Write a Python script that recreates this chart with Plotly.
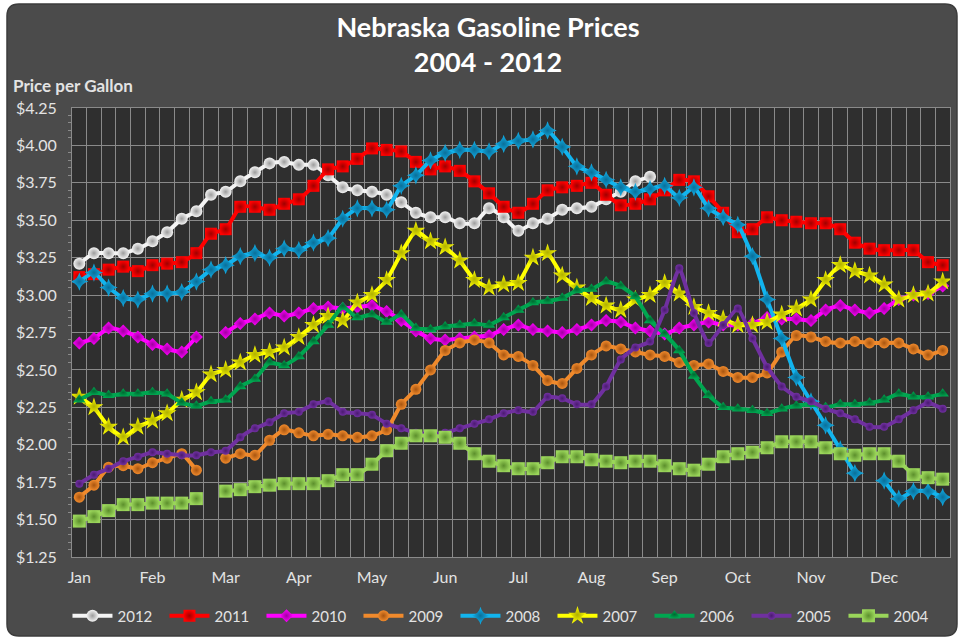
import plotly.graph_objects as go

# ---------------- data ----------------
months = ["Jan", "Feb", "Mar", "Apr", "May", "Jun", "Jul", "Aug", "Sep", "Oct", "Nov", "Dec"]
weeks_per_month = 5
years = ["2012", "2011", "2010", "2009", "2008", "2007", "2006", "2005", "2004"]

p2012 = [3.21, 3.28, 3.28, 3.28, 3.31, 3.36, 3.42, 3.51, 3.56, 3.67, 3.69, 3.76, 3.82, 3.88, 3.89,
         3.87, 3.87, 3.80, 3.72, 3.70, 3.69, 3.67, 3.62, 3.55, 3.52, 3.52, 3.48, 3.48, 3.58, 3.52,
         3.43, 3.48, 3.51, 3.57, 3.58, 3.59, 3.64, 3.69, 3.76, 3.79]
p2011 = [3.12, 3.14, 3.17, 3.19, 3.16, 3.20, 3.21, 3.22, 3.28, 3.41, 3.44, 3.59, 3.59, 3.57, 3.61,
         3.64, 3.73, 3.84, 3.86, 3.91, 3.98, 3.97, 3.96, 3.89, 3.84, 3.86, 3.83, 3.76, 3.68, 3.59,
         3.55, 3.61, 3.70, 3.72, 3.73, 3.75, 3.67, 3.60, 3.61, 3.64, 3.70, 3.77, 3.76, 3.66, 3.55,
         3.42, 3.44, 3.52, 3.50, 3.49, 3.48, 3.48, 3.44, 3.35, 3.31, 3.30, 3.30, 3.30, 3.22, 3.20]
p2010 = [2.68, 2.71, 2.78, 2.76, 2.72, 2.67, 2.64, 2.62, 2.72, None, 2.75, 2.81, 2.84, 2.88, 2.86,
         2.88, 2.91, 2.92, 2.91, 2.92, 2.93, 2.89, 2.83, 2.76, 2.71, 2.70, 2.71, 2.72, 2.73, 2.77,
         2.80, 2.77, 2.76, 2.75, 2.77, 2.80, 2.83, 2.82, 2.78, 2.76, 2.74, 2.78, 2.80, 2.82, 2.80,
         2.80, 2.81, 2.85, 2.84, 2.84, 2.83, 2.90, 2.93, 2.90, 2.88, 2.91, 2.97, 3.00, 3.01, 3.06]
p2009 = [1.65, 1.73, 1.85, 1.86, 1.84, 1.88, 1.91, 1.94, 1.83, None, 1.91, 1.94, 1.93, 2.03, 2.10,
         2.08, 2.06, 2.07, 2.06, 2.05, 2.06, 2.10, 2.27, 2.37, 2.50, 2.63, 2.68, 2.70, 2.68, 2.60,
         2.59, 2.53, 2.43, 2.41, 2.51, 2.60, 2.66, 2.64, 2.62, 2.60, 2.59, 2.55, 2.53, 2.54, 2.49,
         2.45, 2.45, 2.48, 2.62, 2.73, 2.72, 2.69, 2.68, 2.69, 2.68, 2.68, 2.68, 2.64, 2.60, 2.63]
p2008 = [3.09, 3.15, 3.05, 2.98, 2.97, 3.01, 3.01, 3.02, 3.09, 3.17, 3.20, 3.26, 3.28, 3.25, 3.31,
         3.30, 3.35, 3.38, 3.51, 3.58, 3.58, 3.57, 3.73, 3.80, 3.90, 3.95, 3.97, 3.97, 3.96, 4.01,
         4.03, 4.04, 4.10, 3.99, 3.86, 3.82, 3.77, 3.72, 3.69, 3.71, 3.73, 3.65, 3.72, 3.58, 3.52,
         3.47, 3.26, 2.97, 2.71, 2.45, 2.29, 2.13, 1.97, 1.81, None, 1.76, 1.64, 1.69, 1.69, 1.65]
p2007 = [2.32, 2.25, 2.12, 2.05, 2.12, 2.16, 2.21, 2.30, 2.35, 2.47, 2.50, 2.55, 2.60, 2.62, 2.65,
         2.72, 2.80, 2.86, 2.83, 2.95, 3.00, 3.10, 3.28, 3.43, 3.36, 3.32, 3.23, 3.10, 3.05, 3.07,
         3.08, 3.25, 3.28, 3.13, 3.05, 2.98, 2.93, 2.90, 2.97, 3.00, 3.08, 3.01, 2.92, 2.88, 2.84,
         2.80, 2.80, 2.82, 2.87, 2.91, 2.97, 3.10, 3.20, 3.16, 3.13, 3.07, 2.97, 3.00, 3.01, 3.09]
p2006 = [2.30, 2.35, 2.33, 2.34, 2.34, 2.35, 2.34, 2.28, 2.26, 2.29, 2.30, 2.39, 2.44, 2.55, 2.53,
         2.59, 2.69, 2.80, 2.92, 2.85, 2.87, 2.82, 2.87, 2.78, 2.77, 2.79, 2.80, 2.81, 2.80, 2.85,
         2.90, 2.95, 2.96, 2.98, 3.03, 3.04, 3.09, 3.06, 2.99, 2.83, 2.74, 2.63, 2.46, 2.33, 2.25,
         2.24, 2.23, 2.21, 2.24, 2.26, 2.27, 2.25, 2.27, 2.27, 2.28, 2.30, 2.34, 2.32, 2.32, 2.34]
p2005 = [1.74, 1.80, 1.84, 1.89, 1.92, 1.95, 1.94, 1.93, 1.93, 1.95, 1.96, 2.05, 2.11, 2.15, 2.21,
         2.22, 2.27, 2.29, 2.22, 2.21, 2.20, 2.14, 2.11, 2.08, 2.07, 2.08, 2.11, 2.14, 2.17, 2.21,
         2.23, 2.22, 2.32, 2.31, 2.27, 2.27, 2.39, 2.57, 2.65, 2.69, 2.90, 3.18, 2.88, 2.68, 2.80,
         2.91, 2.71, 2.52, 2.39, 2.32, 2.29, 2.24, 2.21, 2.17, 2.12, 2.12, 2.17, 2.23, 2.28, 2.24]
p2004 = [1.49, 1.52, 1.56, 1.60, 1.60, 1.61, 1.61, 1.61, 1.64, None, 1.69, 1.70, 1.72, 1.73, 1.74,
         1.74, 1.74, 1.76, 1.80, 1.80, 1.87, 1.96, 2.01, 2.06, 2.06, 2.05, 2.01, 1.94, 1.89, 1.86,
         1.84, 1.84, 1.88, 1.92, 1.92, 1.90, 1.89, 1.88, 1.89, 1.89, 1.86, 1.84, 1.83, 1.87, 1.92,
         1.94, 1.95, 1.98, 2.02, 2.02, 2.02, 1.98, 1.94, 1.93, 1.94, 1.94, 1.89, 1.80, 1.78, 1.77]

prices = [p2012, p2011, p2010, p2009, p2008, p2007, p2006, p2005, p2004]

# ---------------- styles ----------------
styles = {
    "2012": dict(color="#f4f4f4", edge="#9c9c9c", symbol="circle", size=12),
    "2011": dict(color="#ff0000", edge="#a00000", symbol="square", size=12),
    "2010": dict(color="#ff00ff", edge="#a000a0", symbol="diamond", size=10),
    "2009": dict(color="#f08a2c", edge="#a85510", symbol="circle", size=11),
    "2008": dict(color="#12b4ee", edge="#0a6f99", symbol="star-diamond", size=13),
    "2007": dict(color="#ffff00", edge="#b0b000", symbol="star", size=14),
    "2006": dict(color="#00a650", edge="#006a32", symbol="triangle-up", size=11),
    "2005": dict(color="#7030a0", edge="#4a1a70", symbol="circle", size=8),
    "2004": dict(color="#9ad55a", edge="#5c8f2c", symbol="square", size=13),
}

n_slots = len(months) * weeks_per_month
slots = list(range(n_slots))

fig = go.Figure()
for yr, vals in zip(years, prices):
    st = styles[yr]
    fig.add_trace(go.Scatter(
        x=slots[:len(vals)], y=vals, name=yr, mode="lines+markers",
        line=dict(color=st["color"], width=4, shape="spline", smoothing=0.4),
        marker=dict(symbol=st["symbol"], size=st["size"], color=st["color"],
                    line=dict(width=0),
                    gradient=dict(type="radial", color=st["edge"])),
        connectgaps=False,
    ))

# chart frame (rounded) and plot area background
L, R, T, B = 72, 10, 108, 86
W, H = 960, 643
pw, ph = W - L - R, H - T - B


def px2x(px):
    return (px - L) / pw


def px2y(py):
    return (H - B - py) / ph


x0, x1, y0, y1 = px2x(7), px2x(957), px2y(636), px2y(4)
rx, ry = 12 / pw, 12 / ph
path = (f"M {x0+rx},{y1} L {x1-rx},{y1} Q {x1},{y1} {x1},{y1-ry} "
        f"L {x1},{y0+ry} Q {x1},{y0} {x1-rx},{y0} L {x0+rx},{y0} "
        f"Q {x0},{y0} {x0},{y0+ry} L {x0},{y1-ry} Q {x0},{y1} {x0+rx},{y1} Z")

grid = "#8a8a8a"
txt = "#e3e3e3"
font_family = "Lato, 'Open Sans', sans-serif"

fig.update_layout(
    width=W, height=H,
    margin=dict(l=L, r=R, t=T, b=B, autoexpand=False),
    paper_bgcolor="#ffffff",
    plot_bgcolor="#2f2f2f",
    font=dict(family=font_family, color=txt, size=15),
    shapes=[
        dict(type="path", xref="paper", yref="paper", path=path,
             fillcolor="#4b4b4b", line=dict(color="#3c3c3c", width=1.5), layer="below"),
        dict(type="rect", xref="paper", yref="paper", x0=0, x1=1, y0=0, y1=1,
             fillcolor="#2f2f2f", line=dict(width=0), layer="below"),
    ],
    title=dict(text="<b>Nebraska Gasoline Prices<br>2004 - 2012</b>",
               x=488 / W, xref="container", xanchor="center",
               y=1 - 37 / H, yanchor="middle",
               font=dict(size=27, color="#ffffff", family=font_family)),
    annotations=[dict(text="<b>Price per Gallon</b>", xref="paper", yref="paper",
                      x=px2x(11), y=px2y(85), xanchor="left", yanchor="middle",
                      showarrow=False, font=dict(size=17, color=txt))],
    xaxis=dict(range=[-0.5, n_slots - 0.5],
               tickvals=[i * weeks_per_month for i in range(len(months))],
               ticktext=months, showgrid=False, zeroline=False,
               showline=True, linecolor=grid, mirror=True,
               ticks="", ticklabelstandoff=6,
               tickfont=dict(size=16, color=txt),
               minor=dict(tick0=-0.5, dtick=1, showgrid=True, gridcolor=grid, gridwidth=1)),
    yaxis=dict(range=[1.25, 4.25], tick0=1.25, dtick=0.25, tickformat="$.2f",
               showgrid=True, gridcolor=grid, gridwidth=1, zeroline=False,
               showline=True, linecolor=grid, mirror=True,
               ticks="", ticklabelstandoff=11,
               tickfont=dict(size=16, color=txt),
               minor=dict(dtick=0.05, ticks="outside", ticklen=3, tickcolor=grid)),
    legend=dict(orientation="h", x=0.492, xanchor="center", y=px2y(616), yanchor="middle",
                bgcolor="rgba(0,0,0,0)", font=dict(size=15, color=txt),
                itemwidth=40, entrywidth=42, traceorder="normal"),
    showlegend=True,
)

fig.write_html("out.html", config={"displayModeBar": False},
               post_script="document.body.style.margin='0';")
